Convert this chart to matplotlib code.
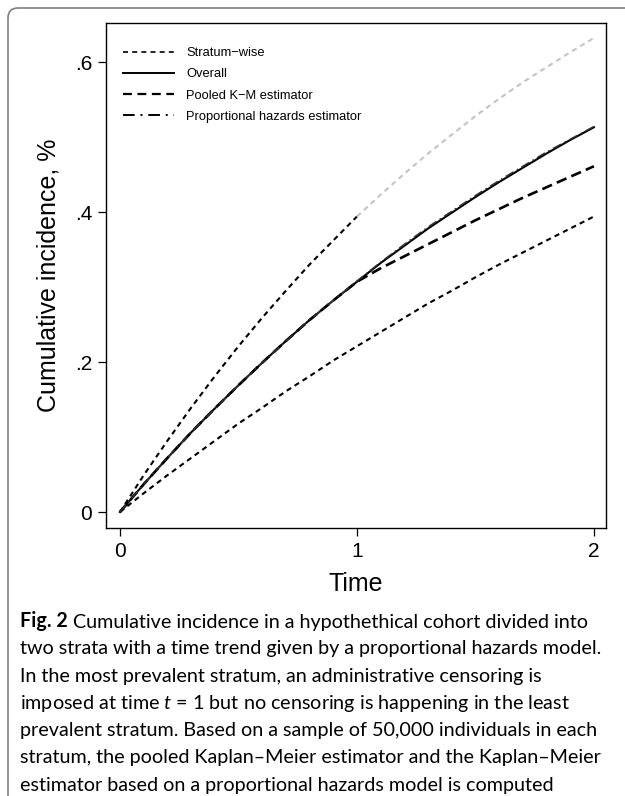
import matplotlib
matplotlib.use("Agg")
import matplotlib.pyplot as plt
from matplotlib.patches import FancyBboxPatch
from matplotlib.lines import Line2D

# -------- Data --------
time = [0.0, 0.1, 0.2, 0.3, 0.4, 0.5, 0.6, 0.7, 0.8, 0.9, 1.0,
        1.1, 1.2, 1.3, 1.4, 1.5, 1.6, 1.7, 1.8, 1.9, 2.0]

stratum_high = [0.000, 0.049, 0.095, 0.139, 0.181, 0.221, 0.259, 0.295, 0.330, 0.362, 0.394,
                0.423, 0.451, 0.478, 0.503, 0.528, 0.551, 0.573, 0.593, 0.613, 0.632]
stratum_low = [0.000, 0.025, 0.049, 0.072, 0.095, 0.118, 0.139, 0.161, 0.181, 0.202, 0.221,
               0.240, 0.259, 0.278, 0.295, 0.313, 0.330, 0.346, 0.362, 0.378, 0.394]
overall = [0.000, 0.037, 0.072, 0.106, 0.138, 0.169, 0.199, 0.228, 0.256, 0.282, 0.307,
           0.332, 0.355, 0.378, 0.399, 0.420, 0.440, 0.459, 0.478, 0.496, 0.513]
pooled_km = [0.000, 0.037, 0.072, 0.106, 0.138, 0.169, 0.199, 0.228, 0.256, 0.282, 0.307,
             0.325, 0.341, 0.357, 0.373, 0.389, 0.404, 0.419, 0.433, 0.447, 0.461]
prop_hazards = [0.000, 0.037, 0.072, 0.106, 0.138, 0.169, 0.199, 0.228, 0.256, 0.282, 0.308,
                0.333, 0.357, 0.380, 0.401, 0.422, 0.442, 0.461, 0.480, 0.497, 0.514]

legend_labels = ["Stratum\u2212wise", "Overall", "Pooled K\u2212M estimator",
                 "Proportional hazards estimator"]
xticks = [0, 1, 2]
yticks = [0, 0.2, 0.4, 0.6]
ytick_labels = ["0", ".2", ".4", ".6"]

caption_bold = "Fig. 2"
caption = [
    " Cumulative incidence in a hypothethical cohort divided into",
    "two strata with a time trend given by a proportional hazards model.",
    "In the most prevalent stratum, an administrative censoring is",
    r"imposed at time $t$ = 1 but no censoring is happening in the least",
    "prevalent stratum. Based on a sample of 50,000 individuals in each",
    "stratum, the pooled Kaplan\u2013Meier estimator and the Kaplan\u2013Meier",
    "estimator based on a proportional hazards model is computed",
]

# -------- Plot --------
cap_font = "Lato"
plt.rcParams["font.family"] = ["Liberation Sans", "DejaVu Sans"]
plt.rcParams["mathtext.fontset"] = "custom"
plt.rcParams["mathtext.rm"] = cap_font
plt.rcParams["mathtext.it"] = cap_font + ":italic"

fig = plt.figure(figsize=(6.25, 7.96), dpi=100)
ax = fig.add_axes([0.1696, 0.3367, 0.8, 0.6344])

split = time.index(1.0)
short_dash = (2.5, 2.0)
long_dash = (4.0, 2.0)
dash_dot = (6.0, 2.5, 1.0, 2.5)

ax.plot(time[:split + 1], stratum_high[:split + 1], color="black", lw=1.5, dashes=short_dash)
ax.plot(time[split:], stratum_high[split:], color="#c4c4c4", lw=1.5, dashes=short_dash)
ax.plot(time, stratum_low, color="black", lw=1.5, dashes=short_dash)
ax.plot(time, pooled_km, color="black", lw=1.9, dashes=long_dash)
ax.plot(time, overall, color="black", lw=1.5)
ax.plot(time, prop_hazards, color="#333333", lw=1.1, dashes=dash_dot)

ax.set_xlim(-0.059, 2.051)
ax.set_ylim(-0.0213, 0.652)
ax.set_xticks(xticks)
ax.set_yticks(yticks)
ax.set_yticklabels(ytick_labels)
ax.tick_params(direction="out", length=6, width=0.9, labelsize=15, pad=4)
for sp in ax.spines.values():
    sp.set_linewidth(1.0)

ax.set_xlabel("Time", fontsize=18, labelpad=8)
ax.set_ylabel("Cumulative incidence, %", fontsize=18, labelpad=10)

handles = [
    Line2D([], [], color="black", lw=1.2, dashes=(3, 2.5)),
    Line2D([], [], color="black", lw=1.4),
    Line2D([], [], color="black", lw=1.6, dashes=(4, 2.5)),
    Line2D([], [], color="black", lw=1.4, dashes=(6, 3, 1, 3)),
]
ax.legend(handles, legend_labels, loc="upper left", bbox_to_anchor=(0.024, 0.962),
          borderaxespad=0, frameon=False, fontsize=9.3, handlelength=3.9,
          handletextpad=1.0, labelspacing=0.7)

# Caption
cap_size = 14.2
x0 = 20 / 625
bold = fig.text(x0, 1 - 627 / 796, caption_bold, fontsize=cap_size, family=cap_font,
                fontweight="bold", va="baseline", ha="left")
ax.annotate(caption[0], xy=(1, 0), xycoords=bold, xytext=(0, 0),
            textcoords="offset points", fontsize=cap_size, family=cap_font,
            va="bottom", ha="left", annotation_clip=False)
for i, line in enumerate(caption[1:], start=1):
    fig.text(x0, 1 - (627 + i * 27.3) / 796, line, fontsize=cap_size,
             family=cap_font, va="baseline", ha="left")

# Page border (rounded, only top/left visible)
border = FancyBboxPatch((0.08, -0.5), 6.6, 7.88 + 0.5,
                        boxstyle="round,pad=0,rounding_size=0.1",
                        transform=fig.dpi_scale_trans, fill=False,
                        edgecolor="#808080", lw=1.2)
fig.patches.append(border)

fig.savefig("out.png", dpi=100)
